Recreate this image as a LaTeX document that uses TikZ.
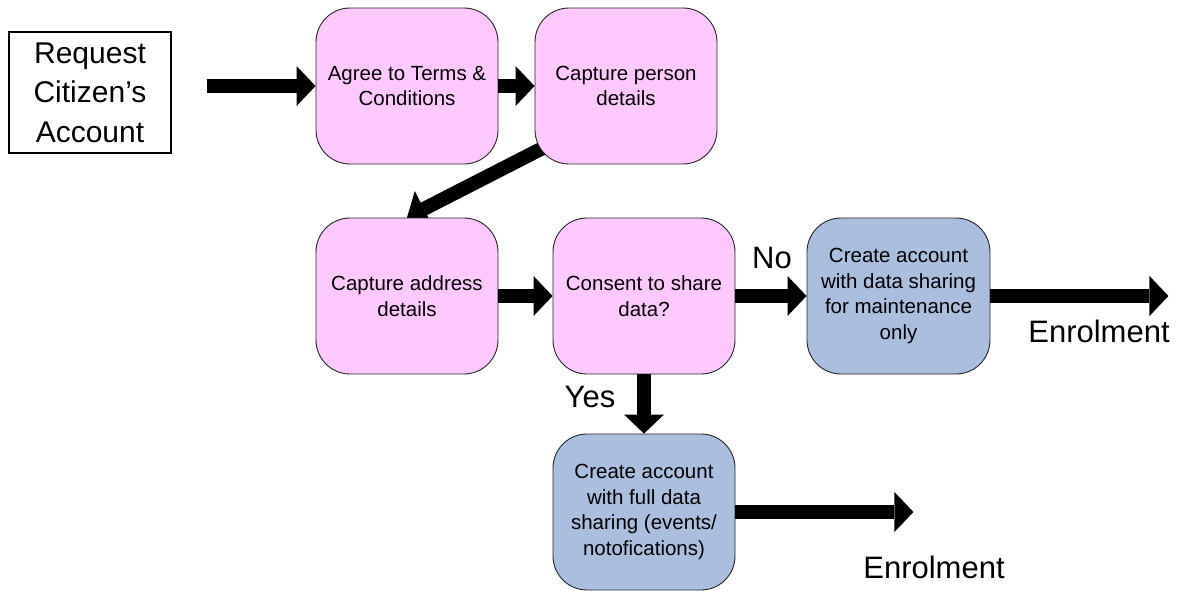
\documentclass[tikz,border=0pt]{standalone}
\usepackage{fontspec}
\setmainfont{Liberation Sans}
\usetikzlibrary{arrows.meta,calc}
\pgfdeclarelayer{background}
\pgfsetlayers{background,main}
\definecolor{pinkfill}{RGB}{255,200,255}
\definecolor{bluefill}{RGB}{170,190,224}
\begin{document}
\begin{tikzpicture}[x=1pt,y=-1pt,
  stepbox/.style={draw=black!85, line width=0.9pt, rounded corners=34pt, minimum width=182pt, minimum height=156pt, inner sep=0pt, align=center, font=\fontsize{20.5}{25.5}\selectfont},
  pinkbox/.style={stepbox, fill=pinkfill},
  bluebox/.style={stepbox, fill=bluefill},
  startbox/.style={draw=black, line width=1.2pt, minimum width=162pt, minimum height=121pt, inner sep=0pt, align=center, font=\fontsize{30}{39.5}\selectfont},
  blockarrow/.style={line width=14pt, -{Triangle[length=19pt,width=40pt,line width=0pt]}},
  biglabel/.style={inner sep=0pt, font=\fontsize{31}{36}\selectfont}]
\useasboundingbox (0,0) rectangle (1188,590);

\node[startbox] (req) at (90,92.5) {Request\\Citizen’s\\Account};
\node[pinkbox] (agree) at (407,86) {Agree to Terms \&\\Conditions};
\node[pinkbox] (cp) at (626,86) {Capture person\\details};
\node[pinkbox] (ca) at (407,296) {Capture address\\details};
\node[pinkbox] (consent) at (644,296) {Consent to share\\data?};
\node[bluebox, minimum width=183pt] (maint) at (898.5,296) {Create account\\with data sharing\\for maintenance\\only};
\node[bluebox] (full) at (644,512) {Create account\\with full data\\sharing (events/\\notofications)};

\coordinate (end1) at ($(maint.east)+(178,0)$);
\coordinate (end2) at ($(full.east)+(178,0)$);
\coordinate (dstart) at ($(cp.center)+(-41,40.4)$);

\draw[blockarrow, shorten <=35pt] (req.east |- agree.west) -- (agree.west);
\draw[blockarrow] (agree.east) -- (cp.west);
\begin{pgfonlayer}{background}
\draw[blockarrow] (dstart) -- (ca.north);
\end{pgfonlayer}
\draw[blockarrow] (ca.east) -- (consent.west);
\draw[blockarrow] (consent.east) -- (maint.west);
\draw[blockarrow] (consent.south) -- (full.north);
\draw[blockarrow] (maint.east) -- (end1);
\draw[blockarrow] (full.east) -- (end2);

\node[biglabel] (no) at (772,258) {No};
\node[biglabel] (yes) at (590,397) {Yes};
\node[biglabel] (enr1) at (1099,331) {Enrolment};
\node[biglabel] (enr2) at (934,567.5) {Enrolment};
\end{tikzpicture}
\end{document}
